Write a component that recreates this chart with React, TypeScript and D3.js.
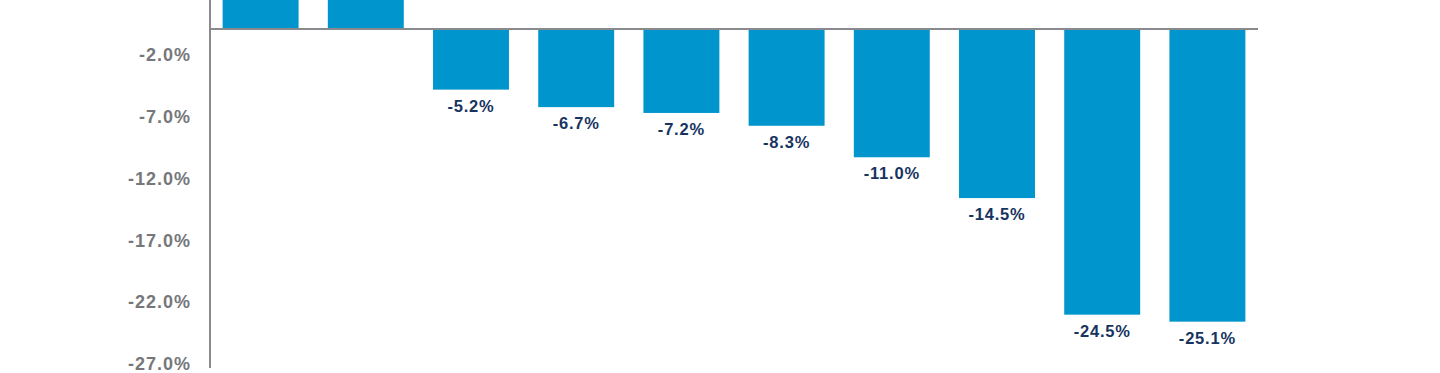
import React from 'react'
import * as d3 from 'd3'

// values; the first two bars are cut off at the top, so they are estimates
const categories = ['A', 'B', 'C', 'D', 'E', 'F', 'G', 'H', 'I', 'J']
const values = [4.6, 4.3, -5.2, -6.7, -7.2, -8.3, -11.0, -14.5, -24.5, -25.1]
const tickValues = [-2, -7, -12, -17, -22, -27]

const width = 1440
const height = 373
const axisX = 210
const plotRight = 1258
const zeroY = 29

const barColor = '#0096cd'
const labelColor = '#17345f'
const tickColor = '#76777b'
const lineColor = '#8a8a8e'
const font = '"Liberation Sans", Arial, Helvetica, sans-serif'

// plain hyphen, like the source
const fmt = (v: number) => `${v.toFixed(1)}%`

export default function App() {
  const x = d3.scaleBand<string>()
    .domain(categories)
    .range([axisX, plotRight])
    .paddingInner(0.278)
    .paddingOuter(0.12)

  // bar scale (px per percent as measured from the bars)
  const y = d3.scaleLinear().domain([0, -25.1]).range([zeroY, zeroY + 25.1 * 11.66])
  // the printed tick labels sit on a slightly different spacing
  const yTicks = d3.scaleLinear().domain([0, -27]).range([30.2, 30.2 + 27 * 12.35])

  return (
    <svg
      width={width}
      height={height}
      style={{ position: 'absolute', top: 0, left: 0, display: 'block', background: '#ffffff' }}
    >
      <g>
        {tickValues.map(t => (
          <text
            key={t}
            x={191}
            y={yTicks(t)}
            dy="0.36em"
            textAnchor="end"
            fill={tickColor}
            fontFamily={font}
            fontWeight="bold"
            fontSize={18}
            letterSpacing={1}
          >
            {fmt(t)}
          </text>
        ))}
      </g>
      <g>
        {values.map((v, i) => {
          const x0 = x(categories[i]) as number
          const top = Math.min(y(v), y(0))
          const h = Math.abs(y(v) - y(0))
          return (
            <g key={categories[i]}>
              <rect x={x0} y={top} width={x.bandwidth()} height={h} fill={barColor} />
              {v < 0 && (
                <text
                  x={x0 + x.bandwidth() / 2}
                  y={y(v) + 16}
                  dy="0.36em"
                  textAnchor="middle"
                  fill={labelColor}
                  fontFamily={font}
                  fontWeight="bold"
                  fontSize={16.5}
                  letterSpacing={0.8}
                >
                  {fmt(v)}
                </text>
              )}
            </g>
          )
        })}
      </g>
      <line x1={axisX} x2={plotRight} y1={y(0)} y2={y(0)} stroke={lineColor} strokeWidth={2} />
      <line x1={axisX} x2={axisX} y1={0} y2={368} stroke={lineColor} strokeWidth={2} />
    </svg>
  )
}
